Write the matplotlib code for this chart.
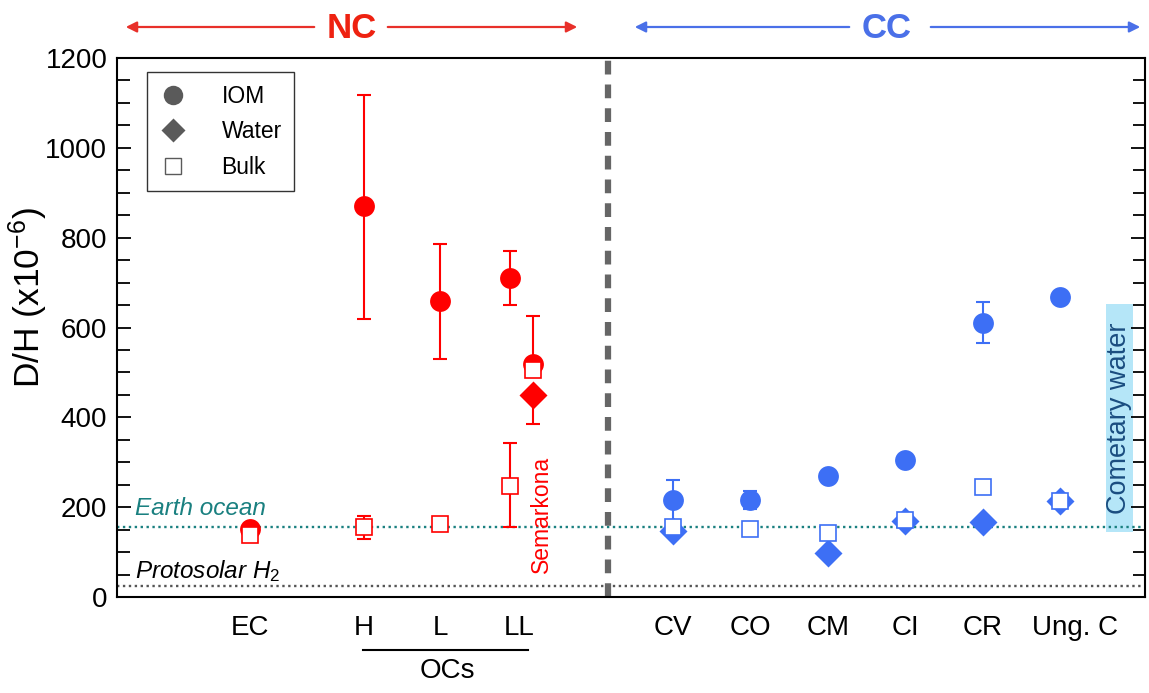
import matplotlib
matplotlib.use("Agg")
import matplotlib.pyplot as plt
from matplotlib.lines import Line2D
from matplotlib.patches import FancyArrowPatch
from matplotlib.ticker import MultipleLocator

plt.rcParams['font.family'] = ['Liberation Sans', 'DejaVu Sans']
plt.rcParams['mathtext.fontset'] = 'custom'
plt.rcParams['mathtext.rm'] = 'Liberation Sans'
plt.rcParams['mathtext.it'] = 'Liberation Sans:italic'

# ---- categories / tick labels ----
tick_labels = ["EC", "H", "L", "LL", "CV", "CO", "CM", "CI", "CR", "Ung. C"]
tick_pos = [250, 364, 440, 519, 673, 750, 828, 905, 983, 1075]

# ---- NC (non-carbonaceous) data ----
nc_iom_x = [250, 364, 440, 510, 533]
nc_iom = [152, 870, 660, 711, 518]
nc_iom_lo = [152, 620, 530, 650, 518]
nc_iom_hi = [152, 1118, 787, 770, 625]

nc_water_x = [533]
nc_water = [450]
nc_water_lo = [385]
nc_water_hi = [450]

nc_bulk_x = [250, 364, 440, 510, 533]
nc_bulk = [138, 155, 163, 248, 505]
nc_bulk_lo = [138, 130, 163, 155, 505]
nc_bulk_hi = [138, 180, 163, 342, 505]

# ---- CC (carbonaceous) data ----
cc_x = [673, 750, 828, 905, 983, 1060]
cc_iom = [217, 216, 270, 306, 611, 668]
cc_iom_lo = [170, 195, 270, 306, 565, 668]
cc_iom_hi = [260, 237, 270, 306, 657, 668]

cc_water_x = [673, 828, 905, 983, 1060]
cc_water = [146, 98, 170, 168, 213]

cc_bulk = [156, 152, 143, 172, 244, 213]

earth_ocean = 155.76
protosolar = 25
comet_lo, comet_hi = 145, 652
comet_x0, comet_x1 = 1106, 1133

RED = "#ff0000"
BLUE = "#3d6ff5"
GREY = "#5a5a5a"
TEAL = "#1a8080"

fig = plt.figure(figsize=(11.49, 6.93), dpi=100)
ax = fig.add_axes([117/1149, 1-597/693, 1028/1149, 539/693])
ax.set_xlim(117, 1145)
ax.set_ylim(0, 1200)

# reference lines
ax.axhline(earth_ocean, color=TEAL, ls=(0, (1, 1.5)), lw=1.7, zorder=1)
ax.axhline(protosolar, color="#555555", ls=(0, (1, 1.5)), lw=1.7, zorder=1)
ax.axvline(608, color="#666666", ls=(0, (2.2, 1.6)), lw=4.5, zorder=1)

# cometary water band
ax.axvspan(comet_x0, comet_x1, ymin=comet_lo/1200, ymax=comet_hi/1200,
           color="#b5e6f8", lw=0, zorder=0.5)
ax.text((comet_x0+comet_x1)/2, 398, "Cometary water",
        rotation=90, ha="center", va="center", fontsize=19.5, color="#1a4d80")

def eb(x, y, lo, hi, color):
    yerr = [[yy-l for yy, l in zip(y, lo)], [h-yy for yy, h in zip(y, hi)]]
    ax.errorbar(x, y, yerr=yerr, fmt="none", ecolor=color, elinewidth=1.5,
                capsize=5, capthick=1.5, zorder=2)

eb(nc_iom_x, nc_iom, nc_iom_lo, nc_iom_hi, RED)
eb(nc_water_x, nc_water, nc_water_lo, nc_water_hi, RED)
eb(nc_bulk_x, nc_bulk, nc_bulk_lo, nc_bulk_hi, RED)
eb(cc_x, cc_iom, cc_iom_lo, cc_iom_hi, BLUE)

ms_c, ms_d, ms_s = 15, 14, 11.5
ax.plot(nc_iom_x, nc_iom, "o", ms=ms_c, color=RED, mec="none", zorder=3)
ax.plot(nc_water_x, nc_water, "D", ms=ms_d, color=RED, mec="none", zorder=4)
ax.plot(nc_bulk_x, nc_bulk, "s", ms=ms_s, mfc="white", mec=RED, mew=1.2, zorder=5)

ax.plot(cc_x, cc_iom, "o", ms=ms_c, color=BLUE, mec="none", zorder=3)
ax.plot(cc_water_x, cc_water, "D", ms=ms_d, color=BLUE, mec="none", zorder=4)
ax.plot(cc_x, cc_bulk, "s", ms=ms_s, mfc="white", mec=BLUE, mew=1.2, zorder=5)

# labels for reference lines
ax.text(135, 183, "Earth ocean", style="italic", fontsize=17.5,
        color=TEAL, va="baseline")
ax.text(135, 42, "Protosolar H$_{\\mathit{2}}$", style="italic", fontsize=17.5,
        color="black", va="baseline")
ax.text(541, 183, "Semarkona", rotation=90, ha="center", va="center",
        fontsize=16.5, color=RED)

# axes styling
ax.set_xticks(tick_pos)
ax.set_xticklabels(tick_labels, fontsize=20)
ax.tick_params(axis="x", length=0, pad=13)
ax.yaxis.set_major_locator(MultipleLocator(200))
ax.yaxis.set_minor_locator(MultipleLocator(50))
ax.tick_params(axis="y", which="major", direction="in", length=10, width=1.3,
               labelsize=20, right=True, left=True, pad=7)
ax.tick_params(axis="y", which="minor", direction="in", length=9, width=1.3,
               right=True, left=True)
for s in ax.spines.values():
    s.set_linewidth(1.5)
ax.set_ylabel("D/H (x10$^{\\mathregular{-6}}$)", fontsize=25.5)
ax.yaxis.set_label_coords(-67/1028, 0.555)

# legend
handles = [Line2D([], [], marker="o", ls="none", color=GREY, ms=14, mec="none"),
           Line2D([], [], marker="D", ls="none", color=GREY, ms=12, mec="none"),
           Line2D([], [], marker="s", ls="none", mfc="white", mec=GREY, ms=11)]
leg = ax.legend(handles, ["IOM", "Water", "Bulk"], loc="upper left",
                bbox_to_anchor=(30/1028, 1-14/539), fontsize=16.5,
                frameon=True, fancybox=False, edgecolor="black",
                handlelength=1.2, handletextpad=1.5, labelspacing=0.55,
                borderpad=0.55, borderaxespad=0)
leg.get_frame().set_linewidth(1.0)

# OCs bracket
ax.plot([363, 528], [-118, -118], color="black", lw=1.5, clip_on=False)
ax.text(447, -136, "OCs", ha="center", va="top", fontsize=20)

# top NC / CC arrows
def arrow(x0, x1, y, color):
    fig.patches.append(FancyArrowPatch(
        (x0/1149, 1-y/693), (x1/1149, 1-y/693), transform=fig.transFigure,
        arrowstyle="-|>", mutation_scale=16, color=color, lw=1.6))

arrow(317, 123, 27, "#e8302a")
arrow(385, 580, 27, "#e8302a")
fig.text(352/1149, 1-28/693, "NC", ha="center", va="center", fontsize=25,
         fontweight="bold", color="#ee2211")
arrow(852, 632, 27, "#4a70e8")
arrow(928, 1143, 27, "#4a70e8")
fig.text(887/1149, 1-28/693, "CC", ha="center", va="center", fontsize=25,
         fontweight="bold", color="#4a70e8")

fig.savefig("out.png", dpi=100)
